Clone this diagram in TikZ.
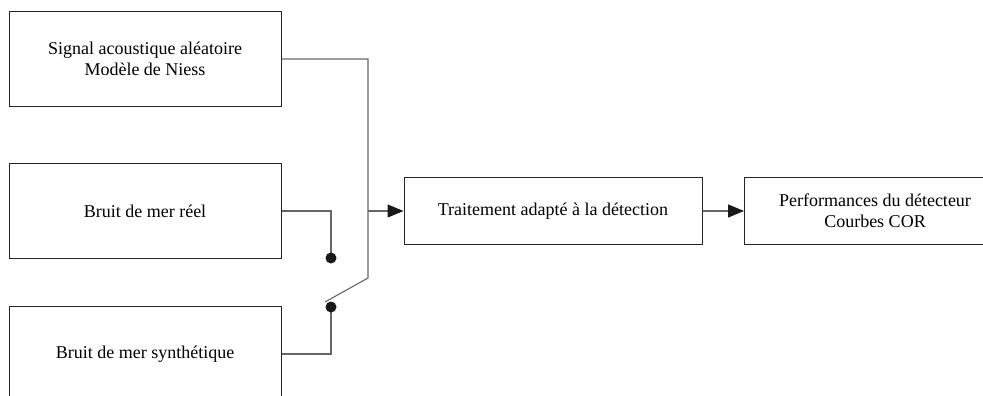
\documentclass[tikz,border=0pt]{standalone}
\usepackage{fontspec}
\setmainfont{Liberation Serif}
\usetikzlibrary{arrows.meta}
\begin{document}
\begin{tikzpicture}[x=1pt,y=-1pt,
  txt/.style={font=\fontsize{18}{21}\selectfont, align=center},
  box/.style={txt, draw=black!85, line width=1pt, rectangle, inner sep=0pt},
  wire/.style={draw=black!60, line width=1.1pt},
  arr/.style={wire, -{Triangle[length=16pt,width=13pt,fill=black!90,color=black!90]}},
  dotc/.style={circle, fill=black!90, inner sep=0pt, minimum size=11pt}]
\useasboundingbox (0,0) rectangle (983,396);
\clip (0,0) rectangle (983,396);
\node[box, minimum width=272pt, minimum height=94pt] (sig) at (145,59) {Signal acoustique aléatoire\\Modèle de Niess};
\node[box, minimum width=272pt, minimum height=95pt] (reel) at (145,211) {Bruit de mer réel};
\node[box, minimum width=272pt, minimum height=95pt] (synth) at (145,354) {Bruit de mer synthétique};
\node[box, minimum width=298pt, minimum height=67pt] (trait) at (553,211) {Traitement adapté à la détection};
\node[box, minimum width=300pt, minimum height=67pt, anchor=west] (perf) at (744,211) {};
\node[txt] (perft) at (875,211) {Performances du détecteur\\Courbes COR};
\coordinate (c1) at (331,258);
\coordinate (c2) at (331,307);
\coordinate (j) at (368,211);
\coordinate (top) at (368,59);
\coordinate (sw) at (368,278);
\coordinate (swend) at (325,302);
\draw[wire] (sig.east) -- (top) -- (sw) -- (swend);
\draw[wire] (reel.east) -| (c1);
\draw[wire] (synth.east) -| (c2);
\node[dotc] (d1) at (c1) {};
\node[dotc] (d2) at (c2) {};
\draw[arr] (j) -- (trait.west);
\draw[arr] (trait.east) -- (perf.west);
\end{tikzpicture}
\end{document}
